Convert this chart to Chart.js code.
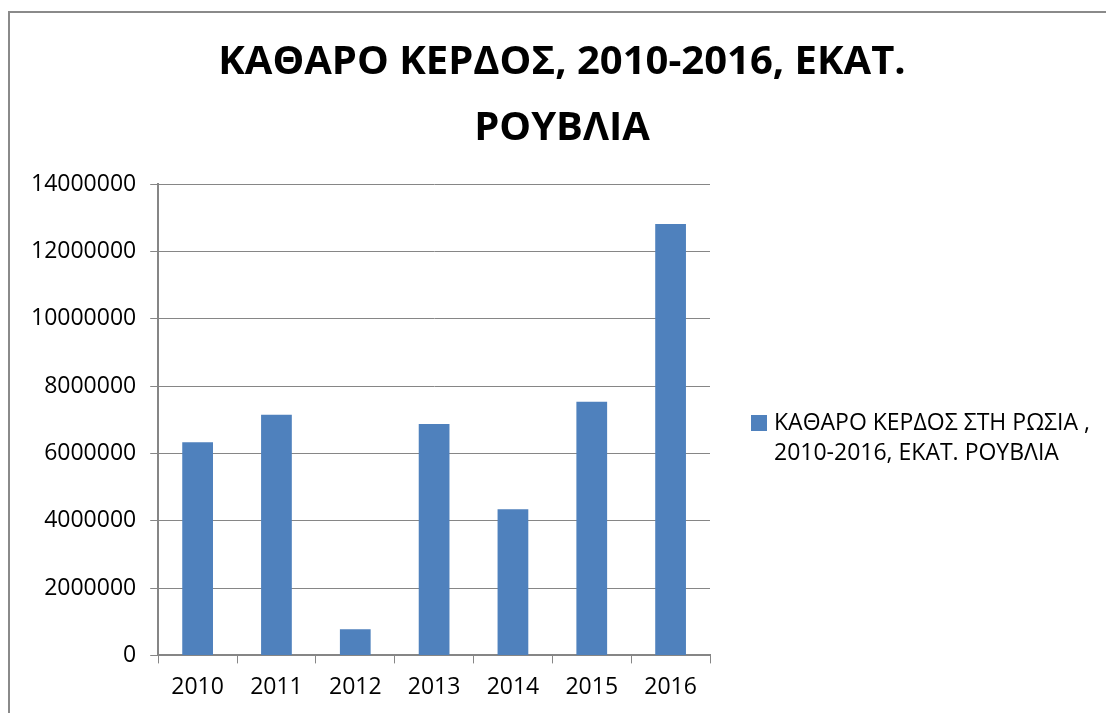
<!DOCTYPE html>
<html>
<head>
<meta charset="utf-8">
<script src="https://cdn.jsdelivr.net/npm/chart.js@4"></script>
<style>
  html, body { margin: 0; padding: 0; background: #fff; }
  #wrap { position: relative; width: 1106px; height: 713px; overflow: hidden; }
  #frame {
    position: absolute; left: 8px; top: 11px; width: 1200px; height: 800px;
    border-left: 2px solid #8a8a8a; border-top: 2px solid #8a8a8a;
  }
  canvas { position: absolute; left: 0; top: 0; }
</style>
</head>
<body>
<div id="wrap">
  <div id="frame"></div>
  <canvas id="netProfitChart" width="1106" height="713"></canvas>
</div>
<script>
// Net profit chart
const years = ["2010", "2011", "2012", "2013", "2014", "2015", "2016"];
const profit = [6330000, 7150000, 780000, 6870000, 4340000, 7530000, 12810000];
const titleLines = ["ΚΑΘΑΡΟ ΚΕΡΔΟΣ, 2010-2016, ΕΚΑΤ.", "ΡΟΥΒΛΙΑ"];
const seriesLabel = ["ΚΑΘΑΡΟ ΚΕΡΔΟΣ ΣΤΗ ΡΩΣΙΑ ,", "2010-2016, ΕΚΑΤ. ΡΟΥΒΛΙΑ"];

const FONT = "'Open Sans', 'Noto Sans', sans-serif";
const barColor = "#4f81bd";
const lineColor = "#868686";

// title centred on the whole chart box + wrapped legend on the right (Excel style)
const excelBits = {
  id: "excelBits",
  afterDraw(chart) {
    const ctx = chart.ctx;
    const area = chart.chartArea;
    ctx.save();

    ctx.fillStyle = "#000";
    ctx.font = "bold 40px " + FONT;
    ctx.textAlign = "center";
    ctx.textBaseline = "middle";
    titleLines.forEach((line, i) => {
      ctx.fillText(line, 562, 63 + i * 66);
    });

    const x = area.right + 41;
    const y = 423;
    ctx.textAlign = "left";
    ctx.fillStyle = barColor;
    ctx.fillRect(x, y - 8, 16, 16);
    ctx.fillStyle = "#000";
    ctx.font = "23px " + FONT;
    seriesLabel.forEach((line, i) => {
      ctx.fillText(line, x + 23, y + i * 30);
    });
    ctx.restore();
  }
};

new Chart(document.getElementById("netProfitChart"), {
  type: "bar",
  data: {
    labels: years,
    datasets: [{
      label: seriesLabel.join(" "),
      data: profit,
      backgroundColor: barColor,
      categoryPercentage: 1,
      barPercentage: 0.39
    }]
  },
  options: {
    responsive: false,
    animation: false,
    layout: {
      padding: { left: 17, right: 396, top: 184, bottom: 2 }
    },
    plugins: {
      legend: { display: false },
      tooltip: { enabled: false },
      title: { display: false }
    },
    scales: {
      x: {
        grid: {
          offset: true,
          drawOnChartArea: false,
          drawTicks: true,
          tickLength: 8,
          color: lineColor
        },
        border: { color: lineColor, width: 2 },
        ticks: {
          color: "#000",
          padding: 10,
          font: { family: FONT, size: 23 }
        }
      },
      y: {
        min: 0,
        max: 14000000,
        ticks: {
          stepSize: 2000000,
          color: "#000",
          padding: 14,
          font: { family: FONT, size: 23 },
          callback: v => String(v)
        },
        grid: {
          color: lineColor,
          lineWidth: 1,
          tickLength: 8
        },
        border: { color: lineColor, width: 2 }
      }
    }
  },
  plugins: [excelBits]
});
</script>
</body>
</html>
